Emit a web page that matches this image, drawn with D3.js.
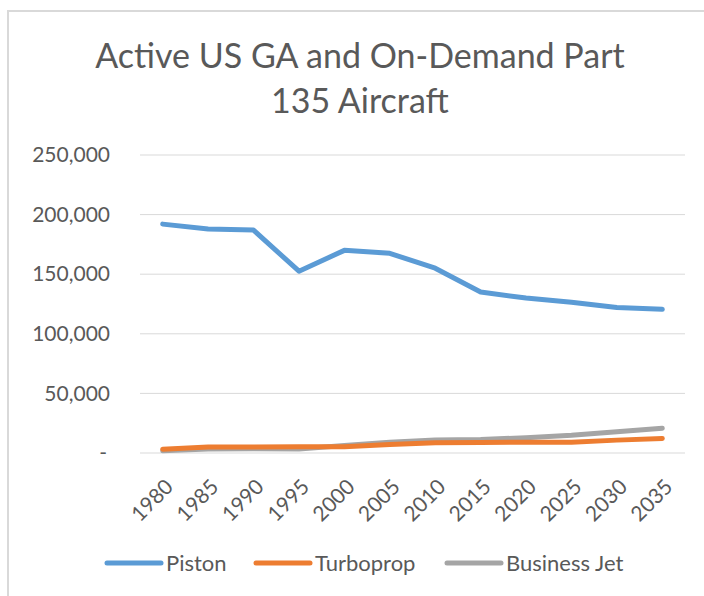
<!DOCTYPE html>
<html>
<head>
<meta charset="utf-8">
<script src="https://cdn.jsdelivr.net/npm/d3@7"></script>
<style>
  body { margin: 0; background: #fff; }
  text { font-family: Lato, "Open Sans", sans-serif; fill: #595959; }
</style>
</head>
<body>
<div id="chart"></div>
<script>
// Chart data
const years = ["1980", "1985", "1990", "1995", "2000", "2005", "2010", "2015", "2020", "2025", "2030", "2035"];
const piston = [192000, 188000, 187000, 152500, 170000, 167500, 155000, 135000, 130000, 126500, 122000, 120500];
const turboprop = [3200, 5000, 5100, 5300, 5200, 7200, 8700, 8900, 9000, 9000, 10800, 12200];
const businessJet = [1800, 3300, 3500, 3400, 6300, 9000, 11000, 11400, 12800, 14800, 17800, 20800];
const seriesNames = ["Piston", "Turboprop", "Business Jet"];
const seriesColors = ["#5b9bd5", "#ed7d31", "#a5a5a5"];
const yTicks = [0, 50000, 100000, 150000, 200000, 250000];

const width = 704, height = 596;
const margin = { top: 155, right: 19, bottom: 143, left: 140 };

const svg = d3.select("#chart")
  .append("svg")
  .attr("width", width)
  .attr("height", height);

// outer chart border (runs off the right and bottom edges)
svg.append("rect")
  .attr("x", 8).attr("y", 11)
  .attr("width", width + 20).attr("height", height + 20)
  .attr("fill", "none")
  .attr("stroke", "#d9d9d9")
  .attr("stroke-width", 2);

// title
const title = svg.append("text")
  .attr("text-anchor", "middle")
  .style("font-size", "34px");
title.append("tspan").attr("x", 360).attr("y", 68).text("Active US GA and On-Demand Part");
title.append("tspan").attr("x", 360).attr("y", 113).text("135 Aircraft");

const x = d3.scalePoint()
  .domain(years)
  .range([margin.left, width - margin.right])
  .padding(0.5);

const y = d3.scaleLinear()
  .domain([0, 250000])
  .range([height - margin.bottom, margin.top]);

// gridlines
svg.append("g")
  .selectAll("line")
  .data(yTicks)
  .join("line")
  .attr("x1", margin.left)
  .attr("x2", width - margin.right)
  .attr("y1", d => y(d))
  .attr("y2", d => y(d))
  .attr("stroke", "#d9d9d9")
  .attr("stroke-width", 1);

// y axis labels
const fmt = d3.format(",");
const yAxis = svg.append("g")
  .attr("transform", `translate(110,0)`)
  .call(d3.axisLeft(y).tickValues(yTicks).tickSize(0).tickPadding(0)
    .tickFormat(d => d === 0 ? "-" : fmt(d)));
yAxis.select(".domain").remove();
yAxis.selectAll("text")
  .style("font-size", "21px")
  .attr("fill", "#595959");
yAxis.selectAll(".tick").filter(d => d === 0).select("text").attr("dx", "-3px");

// x axis labels, rotated
const xAxis = svg.append("g")
  .attr("transform", `translate(0,${height - margin.bottom})`)
  .call(d3.axisBottom(x).tickSize(0).tickPadding(0));
xAxis.select(".domain").remove();
xAxis.selectAll("text")
  .style("font-size", "21px")
  .attr("fill", "#595959")
  .attr("text-anchor", "end")
  .attr("dy", "0.35em")
  .attr("transform", "translate(6,30) rotate(-45)");

// lines
const seriesValues = [piston, turboprop, businessJet];
const line = d3.line()
  .x((d, i) => x(years[i]))
  .y(d => y(d));

// draw grey first, then orange, then blue on top
[2, 1, 0].forEach(k => {
  svg.append("path")
    .datum(seriesValues[k])
    .attr("d", line)
    .attr("fill", "none")
    .attr("stroke", seriesColors[k])
    .attr("stroke-width", 5)
    .attr("stroke-linejoin", "round")
    .attr("stroke-linecap", "round");
});

// legend
const legendX = [107, 256, 447];
const legend = svg.append("g")
  .selectAll("g")
  .data(seriesNames)
  .join("g")
  .attr("transform", (d, i) => `translate(${legendX[i]},563)`);
legend.append("line")
  .attr("x1", 0).attr("x2", 54)
  .attr("stroke", (d, i) => seriesColors[i])
  .attr("stroke-width", 5)
  .attr("stroke-linecap", "round");
legend.append("text")
  .attr("x", 59)
  .attr("dy", "0.35em")
  .style("font-size", "22px")
  .text(d => d);
</script>
</body>
</html>
